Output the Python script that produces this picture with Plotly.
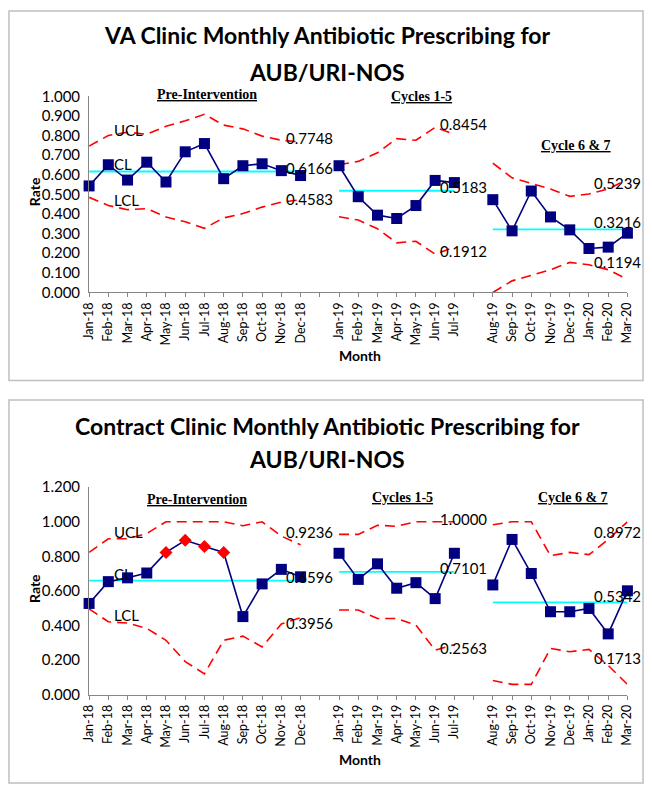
import plotly.graph_objects as go

# ---------------- data ----------------
categories = ["Jan-18", "Feb-18", "Mar-18", "Apr-18", "May-18", "Jun-18", "Jul-18", "Aug-18",
              "Sep-18", "Oct-18", "Nov-18", "Dec-18", "",
              "Jan-19", "Feb-19", "Mar-19", "Apr-19", "May-19", "Jun-19", "Jul-19", " ",
              "Aug-19", "Sep-19", "Oct-19", "Nov-19", "Dec-19", "Jan-20", "Feb-20", "Mar-20"]

pre_months = ["Jan-18", "Feb-18", "Mar-18", "Apr-18", "May-18", "Jun-18", "Jul-18", "Aug-18",
              "Sep-18", "Oct-18", "Nov-18", "Dec-18"]
c15_months = ["Jan-19", "Feb-19", "Mar-19", "Apr-19", "May-19", "Jun-19", "Jul-19"]
c67_months = ["Aug-19", "Sep-19", "Oct-19", "Nov-19", "Dec-19", "Jan-20", "Feb-20", "Mar-20"]

# VA clinic
va_pre_rate = [0.543, 0.651, 0.573, 0.664, 0.563, 0.717, 0.759, 0.580, 0.646, 0.656, 0.621, 0.596]
va_pre_ucl = [0.746, 0.800, 0.817, 0.806, 0.847, 0.875, 0.908, 0.853, 0.834, 0.797, 0.776, 0.767]
va_pre_lcl = [0.485, 0.443, 0.422, 0.427, 0.385, 0.360, 0.327, 0.380, 0.402, 0.435, 0.460, 0.473]
va_pre_cl = 0.6166

va_c15_rate = [0.646, 0.488, 0.394, 0.377, 0.443, 0.571, 0.560]
va_c15_ucl = [0.651, 0.668, 0.712, 0.784, 0.776, 0.842, 0.806]
va_c15_lcl = [0.386, 0.369, 0.325, 0.253, 0.261, 0.195, 0.231]
va_c15_cl = 0.5183

va_c67_rate = [0.473, 0.314, 0.517, 0.385, 0.319, 0.224, 0.231, 0.302]
va_c67_ucl = [0.659, 0.584, 0.556, 0.527, 0.490, 0.502, 0.527, 0.576]
va_c67_lcl = [0.000, 0.059, 0.087, 0.116, 0.153, 0.141, 0.116, 0.067]
va_c67_cl = 0.3216

# Contract clinic
cc_pre_rate = [0.528, 0.654, 0.676, 0.704, 0.823, 0.893, 0.857, 0.823, 0.452, 0.641, 0.725, 0.682]
cc_pre_ucl = [0.823, 0.902, 0.902, 0.932, 1.000, 1.000, 1.000, 1.000, 0.977, 1.000, 0.917, 0.867]
cc_pre_lcl = [0.497, 0.422, 0.415, 0.384, 0.315, 0.192, 0.121, 0.315, 0.339, 0.277, 0.409, 0.446]
cc_pre_cl = 0.6596
cc_signal_months = ["May-18", "Jun-18", "Jul-18", "Aug-18"]

cc_c15_rate = [0.818, 0.667, 0.757, 0.616, 0.648, 0.556, 0.818]
cc_c15_ucl = [0.927, 0.927, 0.980, 0.974, 1.000, 1.000, 1.000]
cc_c15_lcl = [0.490, 0.490, 0.441, 0.441, 0.403, 0.258, 0.290]
cc_c15_cl = 0.7101

cc_c67_rate = [0.635, 0.898, 0.701, 0.480, 0.480, 0.499, 0.352, 0.601]
cc_c67_ucl = [0.983, 1.000, 1.000, 0.804, 0.823, 0.810, 0.898, 1.000]
cc_c67_lcl = [0.083, 0.060, 0.060, 0.268, 0.249, 0.262, 0.170, 0.060]
cc_c67_cl = 0.5342

titles = [["VA Clinic Monthly Antibiotic Prescribing for", "AUB/URI-NOS"],
          ["Contract Clinic Monthly Antibiotic Prescribing for", "AUB/URI-NOS"]]
phase_names = ["Pre-Intervention", "Cycles 1-5", "Cycle 6 & 7"]
va_limit_labels = [["0.7748", "0.6166", "0.4583"], ["0.8454", "0.5183", "0.1912"], ["0.5239", "0.3216", "0.1194"]]
cc_limit_labels = [["0.9236", "0.6596", "0.3956"], ["1.0000", "0.7101", "0.2563"], ["0.8972", "0.5342", "0.1713"]]

# ---------------- layout helpers (positions) ----------------
W, H = 652, 792
NAVY = "#000080"
RED = "#FF0000"
CYAN = "#00FFFF"
AXIS_GRAY = "#868686"
SANS = "Lato, Carlito, Calibri, sans-serif"
SERIF = "Liberation Serif, Times New Roman, serif"


def px_x(p):
    return p / W


def px_y(p):
    return 1 - p / H


fig = go.Figure()


def idx(months):
    return [categories.index(m) for m in months]


def add_phase(xa, ya, months, rate, ucl, lcl, cl, signal=None):
    xs = idx(months)
    for lim in (ucl, lcl):
        fig.add_trace(go.Scatter(x=xs, y=lim, xaxis=xa, yaxis=ya, mode="lines",
                                 line=dict(color=RED, width=1.6, dash="10px,6px"),
                                 cliponaxis=False, showlegend=False, hoverinfo="skip"))
    fig.add_trace(go.Scatter(x=[xs[0], xs[-1]], y=[cl, cl], xaxis=xa, yaxis=ya, mode="lines",
                             line=dict(color=CYAN, width=1.8),
                             cliponaxis=False, showlegend=False, hoverinfo="skip"))
    sig = signal or []
    symbols = ["diamond" if m in sig else "square" for m in months]
    colors = [RED if m in sig else NAVY for m in months]
    sizes = [10 if m in sig else 11 for m in months]
    fig.add_trace(go.Scatter(x=xs, y=rate, xaxis=xa, yaxis=ya, mode="lines+markers",
                             line=dict(color=NAVY, width=1.6),
                             marker=dict(symbol=symbols, color=colors, size=sizes, opacity=1,
                                         line=dict(width=0)),
                             cliponaxis=False, showlegend=False))


add_phase("x", "y", pre_months, va_pre_rate, va_pre_ucl, va_pre_lcl, va_pre_cl)
add_phase("x", "y", c15_months, va_c15_rate, va_c15_ucl, va_c15_lcl, va_c15_cl)
add_phase("x", "y", c67_months, va_c67_rate, va_c67_ucl, va_c67_lcl, va_c67_cl)
add_phase("x2", "y2", pre_months, cc_pre_rate, cc_pre_ucl, cc_pre_lcl, cc_pre_cl, cc_signal_months)
add_phase("x2", "y2", c15_months, cc_c15_rate, cc_c15_ucl, cc_c15_lcl, cc_c15_cl)
add_phase("x2", "y2", c67_months, cc_c67_rate, cc_c67_ucl, cc_c67_lcl, cc_c67_cl)

xaxis_common = dict(range=[0, len(categories) - 1], tickmode="array",
                    tickvals=list(range(len(categories))), ticktext=categories,
                    tickangle=-90, ticks="outside", ticklen=4, tickcolor=AXIS_GRAY,
                    showline=True, linecolor=AXIS_GRAY, linewidth=1, showgrid=False,
                    zeroline=False, tickfont=dict(family=SANS, size=12.5, color="#000"))
yaxis_common = dict(tickformat=".3f", ticks="outside", ticklen=5, tickcolor="rgba(0,0,0,0)",
                    showline=True, linecolor=AXIS_GRAY, linewidth=1, showgrid=False,
                    zeroline=False, tickfont=dict(family=SANS, size=15, color="#000"))

x_dom = [px_x(83), px_x(634)]
fig.update_layout(
    width=W, height=H, margin=dict(l=0, r=0, t=0, b=0),
    paper_bgcolor="white", plot_bgcolor="white",
    xaxis=dict(domain=x_dom, anchor="y", **xaxis_common),
    yaxis=dict(domain=[px_y(289), px_y(88.3)], anchor="x", range=[0, 1.0],
               tickvals=[i / 10 for i in range(11)], **yaxis_common),
    xaxis2=dict(domain=x_dom, anchor="y2", **xaxis_common),
    yaxis2=dict(domain=[px_y(700.7), px_y(488.3)], anchor="x2", range=[0, 1.2],
                tickvals=[i / 5 for i in range(7)], **yaxis_common),
)

# panel borders
for y0, y1 in [(1, 379), (399, 791)]:
    fig.add_shape(type="rect", xref="paper", yref="paper",
                  x0=px_x(1), x1=px_x(650), y0=px_y(y1), y1=px_y(y0),
                  line=dict(color="#BFBFBF", width=1.5))

ann = []
# titles
for (l1, l2), (ya, yb) in zip(titles, [(26, 63), (426, 459)]):
    for txt, yy in [(l1, ya), (l2, yb)]:
        ann.append(dict(text=f"<b>{txt}</b>", xref="paper", yref="paper", x=px_x(327), y=px_y(yy),
                        xanchor="center", yanchor="middle", showarrow=False,
                        font=dict(family=SANS, size=23, color="#000")))
# axis titles
for yy in [354, 767]:
    ann.append(dict(text="<b>Month</b>", xref="paper", yref="paper", x=px_x(360), y=px_y(yy),
                    xanchor="center", yanchor="middle", showarrow=False,
                    font=dict(family=SANS, size=14, color="#000")))
for yy in [186, 592]:
    ann.append(dict(text="<b>Rate</b>", xref="paper", yref="paper", x=px_x(27), y=px_y(yy),
                    xanchor="center", yanchor="middle", showarrow=False, textangle=-90,
                    font=dict(family=SANS, size=14, color="#000")))

# phase headings (pixel positions on the page)
phase_pos = [[(204, 86), (423, 89), (581, 139)],
             [(193, 501), (404, 499), (578, 499)]]
for pos in phase_pos:
    for name, (px, py) in zip(phase_names, pos):
        ann.append(dict(text=f"<b><u>{name}</u></b>", xref="paper", yref="paper",
                        x=px_x(px), y=px_y(py),
                        xanchor="center", yanchor="middle", showarrow=False,
                        font=dict(family=SERIF, size=14, color="#000")))

# limit labels
label_x = [10.15, 18.14, 26.15]
va_label_y = [[0.789, 0.634, 0.477], [0.858, 0.535, 0.211], [0.557, 0.360, 0.156]]
cc_label_y = [[0.942, 0.682, 0.415], [1.017, 0.734, 0.273], [0.942, 0.573, 0.211]]
for xa, ya, labels, ys in [("x", "y", va_limit_labels, va_label_y), ("x2", "y2", cc_limit_labels, cc_label_y)]:
    for lx, labs, lys in zip(label_x, labels, ys):
        for t, yy in zip(labs, lys):
            ann.append(dict(text=t, xref=xa, yref=ya, x=lx, y=yy, xanchor="left", yanchor="middle",
                            showarrow=False, font=dict(family=SANS, size=15, color="#000")))
    name_y = [0.826, 0.653, 0.473] if xa == "x" else [0.940, 0.701, 0.460]
    for t, yy in zip(["UCL", "CL", "LCL"], name_y):
        ann.append(dict(text=t, xref=xa, yref=ya, x=1.17, y=yy, xanchor="left", yanchor="middle",
                        showarrow=False, font=dict(family=SANS, size=15, color="#000")))

fig.update_layout(annotations=ann)
fig.write_html("out.html", config={"displayModeBar": False},
               post_script="document.body.style.margin='0';document.body.style.overflow='hidden';")
